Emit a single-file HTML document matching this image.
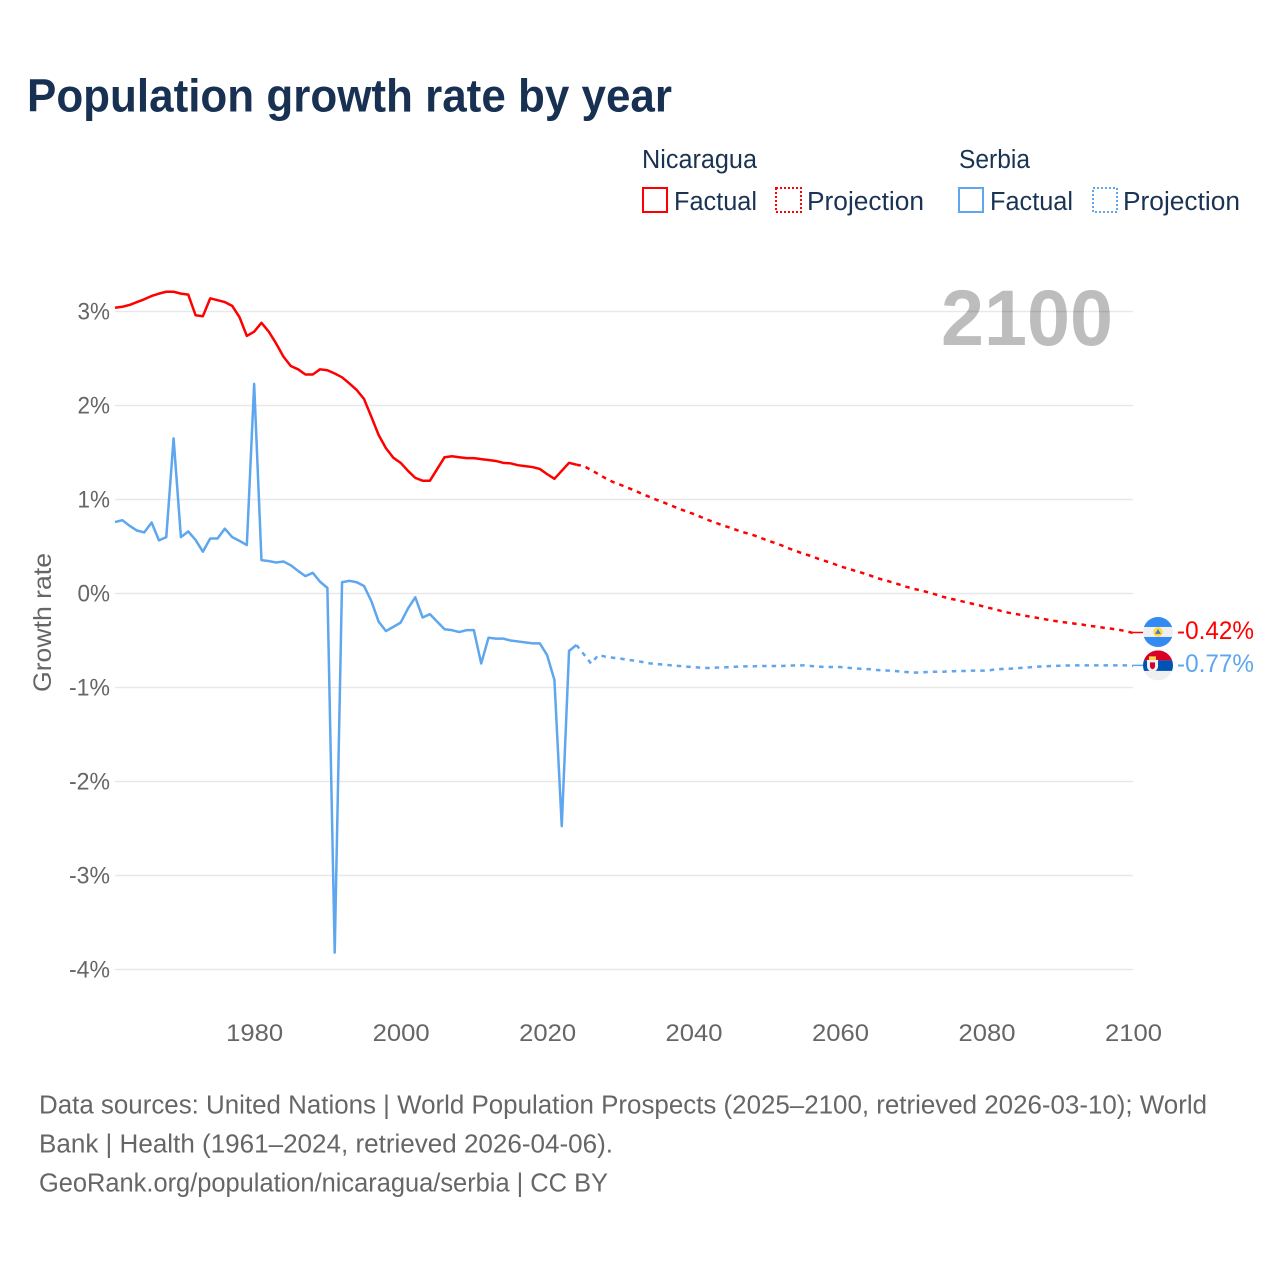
<!DOCTYPE html>
<html lang="en">
<head>
<meta charset="utf-8">
<title>Population growth rate by year</title>
<style>
html,body{margin:0;padding:0;background:#fff;}
svg{display:block;font-family:"Liberation Sans",Arial,sans-serif;}
</style>
</head>
<body>
<svg id="chart" xmlns="http://www.w3.org/2000/svg" width="1280" height="1280" viewBox="0 0 1280 1280">
  <defs>
    <clipPath id="flag-clip"><circle cx="0" cy="0" r="15"/></clipPath>
  </defs>
  <rect x="0" y="0" width="1280" height="1280" fill="#fff"/>
  <text x="27" y="111.5" font-size="46" font-weight="700" fill="#183153" textLength="645" lengthAdjust="spacingAndGlyphs">Population growth rate by year</text>

  <g font-size="25.5" fill="#1a3353">
    <text x="642" y="168" textLength="115" lengthAdjust="spacingAndGlyphs">Nicaragua</text>
    <text x="959" y="168" textLength="71" lengthAdjust="spacingAndGlyphs">Serbia</text>
    <g>
      <rect x="643" y="188" width="24" height="24" fill="none" stroke="#ff0000" stroke-width="2"/>
      <text x="674" y="210" textLength="83" lengthAdjust="spacingAndGlyphs">Factual</text>
    </g>
    <g>
      <rect x="776" y="188" width="25" height="24" fill="none" stroke="#ff0000" stroke-width="2" stroke-dasharray="2 2"/>
      <text x="807" y="210" textLength="117" lengthAdjust="spacingAndGlyphs">Projection</text>
    </g>
    <g>
      <rect x="959" y="188" width="24" height="24" fill="none" stroke="#5ea6ee" stroke-width="2"/>
      <text x="990" y="210" textLength="83" lengthAdjust="spacingAndGlyphs">Factual</text>
    </g>
    <g>
      <rect x="1093" y="188" width="24" height="24" fill="none" stroke="#5ea6ee" stroke-width="2" stroke-dasharray="2 2"/>
      <text x="1123" y="210" textLength="117" lengthAdjust="spacingAndGlyphs">Projection</text>
    </g>
  </g>

  <text x="941" y="345" font-size="79" font-weight="700" fill="#bdbdbd" textLength="172" lengthAdjust="spacingAndGlyphs">2100</text>

  <g id="grid-layer"></g>
  <g id="y-tick-layer" font-size="24.5" fill="#666"></g>
  <g id="x-tick-layer" font-size="24.5" fill="#666"></g>
  <text transform="translate(51 692) rotate(-90)" font-size="25" fill="#666" textLength="139" lengthAdjust="spacingAndGlyphs">Growth rate</text>

  <g id="series-layer"></g>

  <g id="flag-nicaragua" clip-path="url(#flag-clip)">
    <rect x="-15" y="-15" width="30" height="30" fill="#f0f0f0"/>
    <rect x="-15" y="-15" width="30" height="10" fill="#338af3"/>
    <rect x="-15" y="5" width="30" height="10" fill="#338af3"/>
    <circle cx="0" cy="0" r="4.8" fill="#ffda44"/>
    <polygon points="0,-3 3,2 -3,2" fill="#4a7fb5"/>
  </g>
  <g id="flag-serbia" clip-path="url(#flag-clip)">
    <rect x="-15" y="-15" width="30" height="30" fill="#f0f0f0"/>
    <rect x="-15" y="-15" width="30" height="10" fill="#d80027"/>
    <rect x="-15" y="-5" width="30" height="10.5" fill="#0052b4"/>
    <rect x="-9" y="-9" width="7" height="3.5" fill="#ffda44"/>
    <path d="M-11,-5.5H0V1C0,4.5 -3,6 -5.5,7C-8,6 -11,4.5 -11,1Z" fill="#f0f0f0"/>
    <path d="M-8,-3H-3V1C-3,2.6 -4.5,3.4 -5.5,4C-6.5,3.4 -8,2.6 -8,1Z" fill="#d80027"/>
  </g>
  <text id="value-nicaragua" x="1177" font-size="25" fill="#ff0000" textLength="77" lengthAdjust="spacingAndGlyphs"></text>
  <text id="value-serbia" x="1177" font-size="25" fill="#5ea6ee" textLength="77" lengthAdjust="spacingAndGlyphs"></text>

  <g font-size="25.5" fill="#666">
    <text x="39" y="1113.5" textLength="1168" lengthAdjust="spacingAndGlyphs">Data sources: United Nations | World Population Prospects (2025–2100, retrieved 2026-03-10); World</text>
    <text x="39" y="1152.5" textLength="574" lengthAdjust="spacingAndGlyphs">Bank | Health (1961–2024, retrieved 2026-04-06).</text>
    <a><text x="39" y="1191.5" textLength="569" lengthAdjust="spacingAndGlyphs">GeoRank.org/population/nicaragua/serbia | CC BY</text></a>
  </g>
</svg>

<script>
const yTickValues = [3, 2, 1, 0, -1, -2, -3, -4];
const xTickYears = [1980, 2000, 2020, 2040, 2060, 2080, 2100];
const factualStartYear = 1961;
const projectionStartYear = 2024;

const nicaraguaFactual = [3.04,3.05,3.07,3.10,3.13,3.165,3.19,3.21,3.21,3.19,3.18,2.96,2.95,3.14,3.12,3.10,3.06,2.94,2.74,2.785,2.88,2.785,2.66,2.52,2.42,2.385,2.33,2.33,2.385,2.375,2.34,2.30,2.235,2.165,2.07,1.88,1.686,1.545,1.445,1.39,1.305,1.23,1.20,1.20,1.325,1.45,1.46,1.45,1.44,1.44,1.43,1.42,1.41,1.39,1.385,1.365,1.355,1.345,1.325,1.27,1.22,1.305,1.39,1.37];
const nicaraguaProjection = [1.37,1.356,1.314,1.27,1.225,1.186,1.157,1.125,1.094,1.058,1.027,0.995,0.966,0.934,0.902,0.874,0.846,0.814,0.782,0.753,0.725,0.70,0.672,0.647,0.626,0.598,0.566,0.54,0.513,0.48,0.452,0.423,0.40,0.37,0.345,0.32,0.29,0.267,0.243,0.22,0.195,0.165,0.144,0.122,0.098,0.072,0.051,0.034,0.013,-0.009,-0.034,-0.055,-0.07,-0.09,-0.108,-0.126,-0.147,-0.165,-0.186,-0.204,-0.218,-0.232,-0.247,-0.26,-0.274,-0.289,-0.30,-0.31,-0.32,-0.33,-0.343,-0.353,-0.364,-0.374,-0.385,-0.40,-0.42];

const serbiaFactual = [0.76,0.78,0.72,0.67,0.65,0.755,0.565,0.60,1.65,0.60,0.66,0.57,0.445,0.585,0.585,0.69,0.60,0.56,0.515,2.23,0.355,0.345,0.33,0.34,0.30,0.24,0.185,0.22,0.125,0.06,-3.82,0.12,0.135,0.12,0.08,-0.08,-0.30,-0.40,-0.355,-0.31,-0.16,-0.04,-0.255,-0.22,-0.30,-0.38,-0.39,-0.41,-0.39,-0.39,-0.745,-0.47,-0.48,-0.48,-0.50,-0.51,-0.52,-0.53,-0.53,-0.655,-0.92,-2.475,-0.61,-0.548];
const serbiaProjection = [-0.548,-0.645,-0.745,-0.655,-0.672,-0.683,-0.693,-0.704,-0.715,-0.729,-0.743,-0.75,-0.757,-0.764,-0.771,-0.778,-0.782,-0.789,-0.793,-0.789,-0.786,-0.782,-0.778,-0.775,-0.775,-0.771,-0.771,-0.771,-0.771,-0.768,-0.764,-0.764,-0.771,-0.778,-0.782,-0.782,-0.782,-0.789,-0.796,-0.803,-0.805,-0.814,-0.818,-0.821,-0.828,-0.835,-0.842,-0.84,-0.835,-0.832,-0.832,-0.828,-0.825,-0.825,-0.821,-0.821,-0.821,-0.81,-0.803,-0.8,-0.796,-0.789,-0.785,-0.778,-0.775,-0.771,-0.768,-0.766,-0.765,-0.765,-0.765,-0.765,-0.765,-0.765,-0.765,-0.765,-0.77];

const NS = 'http://www.w3.org/2000/svg';
const plotLeft = 115, plotRight = 1133;
function xScale(year) { return plotLeft + (year - factualStartYear) * (plotRight - plotLeft) / (2100 - factualStartYear); }
function yScale(value) { return 593.5 - value * 94; }
function make(tag, attrs, parent) {
  const el = document.createElementNS(NS, tag);
  for (const k in attrs) el.setAttribute(k, attrs[k]);
  parent.appendChild(el);
  return el;
}
const gridLayer = document.getElementById('grid-layer');
const yTickLayer = document.getElementById('y-tick-layer');
const xTickLayer = document.getElementById('x-tick-layer');
const seriesLayer = document.getElementById('series-layer');

yTickValues.forEach(function (v) {
  const line = make('line', { x1: plotLeft, x2: plotRight, y1: yScale(v), y2: yScale(v), stroke: '#000', 'stroke-opacity': '0.09', 'stroke-width': '1.4' }, gridLayer);
  
  
  const s = v + '%';
  const label = make('text', { x: 110, y: yScale(v) + 8, 'text-anchor': 'end', textLength: s.length === 2 ? 32.5 : 41, lengthAdjust: 'spacingAndGlyphs' }, yTickLayer);
  label.textContent = s;
  
  
});

xTickYears.forEach(function (yr) {
  const label = make('text', { x: xScale(yr) + 0.5, y: 1041, 'text-anchor': 'middle', textLength: 57, lengthAdjust: 'spacingAndGlyphs' }, xTickLayer);
  label.textContent = String(yr);
  
  
});

function toPoints(values, startYear) {
  return values.map(function (v, i) { return xScale(startYear + i).toFixed(2) + ',' + yScale(v).toFixed(2); }).join(' ');
}
function drawLine(values, startYear, color, dashed) {
  const attrs = { points: toPoints(values, startYear), fill: 'none', stroke: color, 'stroke-width': '2.5', 'stroke-linejoin': 'round' };
  if (dashed) attrs['stroke-dasharray'] = '4.5 5';
  return make('polyline', attrs, seriesLayer);
}
const redColor = '#ff0000', blueColor = '#5ea6ee';

const lineSerbiaFactual = drawLine(serbiaFactual, factualStartYear, blueColor, false);


const lineSerbiaProjection = drawLine(serbiaProjection, projectionStartYear, blueColor, true);


const lineNicaraguaFactual = drawLine(nicaraguaFactual, factualStartYear, redColor, false);


const lineNicaraguaProjection = drawLine(nicaraguaProjection, projectionStartYear, redColor, true);



const lastNicaragua = nicaraguaProjection[nicaraguaProjection.length - 1];
const lastSerbia = serbiaProjection[serbiaProjection.length - 1];

const connectorNicaragua = make('line', { x1: xScale(2100), x2: 1144, y1: yScale(lastNicaragua) - 0.5, y2: yScale(lastNicaragua) - 0.5, stroke: redColor, 'stroke-width': '1.5' }, seriesLayer);


const connectorSerbia = make('line', { x1: xScale(2100), x2: 1144, y1: yScale(lastSerbia) - 0.5, y2: yScale(lastSerbia) - 0.5, stroke: blueColor, 'stroke-width': '1.5' }, seriesLayer);



document.getElementById('flag-nicaragua').setAttribute('transform', 'translate(1158 ' + (yScale(lastNicaragua) - 1) + ')');
document.getElementById('flag-serbia').setAttribute('transform', 'translate(1158 ' + (yScale(lastSerbia) - 0.5) + ')');

const valueNicaragua = document.getElementById('value-nicaragua');
valueNicaragua.setAttribute('y', yScale(lastNicaragua) + 6);
valueNicaragua.textContent = lastNicaragua.toFixed(2) + '%';
const valueSerbia = document.getElementById('value-serbia');
valueSerbia.setAttribute('y', yScale(lastSerbia) + 6);
valueSerbia.textContent = lastSerbia.toFixed(2) + '%';
</script>
</body>
</html>
